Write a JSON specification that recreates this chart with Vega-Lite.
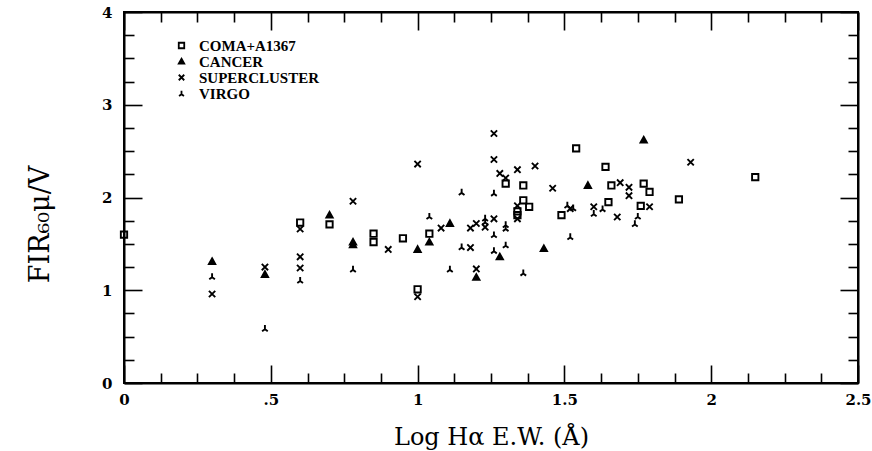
{
  "$schema": "https://vega.github.io/schema/vega-lite/v6.json",
  "width": 734,
  "height": 371,
  "autosize": "none",
  "padding": {"left": 124, "top": 12, "right": 14, "bottom": 68},
  "background": "white",
  "config": {
    "view": {"stroke": "black", "strokeWidth": 2},
    "axis": {"domainColor": "black", "domainWidth": 2, "tickColor": "black", "tickWidth": 1.6, "grid": false, "labelFont": "DejaVu Serif", "labelFontWeight": "bold", "labelColor": "black", "titleFont": "DejaVu Serif", "titleFontWeight": "normal", "titleColor": "black"}
  },
  "data": {"values": [
    {"s": "COMA+A1367", "x": 0.0, "y": 1.60},
    {"s": "COMA+A1367", "x": 0.60, "y": 1.73},
    {"s": "COMA+A1367", "x": 0.70, "y": 1.71},
    {"s": "COMA+A1367", "x": 0.85, "y": 1.61},
    {"s": "COMA+A1367", "x": 0.85, "y": 1.52},
    {"s": "COMA+A1367", "x": 0.95, "y": 1.56},
    {"s": "COMA+A1367", "x": 1.00, "y": 1.01},
    {"s": "COMA+A1367", "x": 1.04, "y": 1.61},
    {"s": "COMA+A1367", "x": 1.30, "y": 2.15},
    {"s": "COMA+A1367", "x": 1.36, "y": 2.13},
    {"s": "COMA+A1367", "x": 1.36, "y": 1.97},
    {"s": "COMA+A1367", "x": 1.38, "y": 1.90},
    {"s": "COMA+A1367", "x": 1.34, "y": 1.85},
    {"s": "COMA+A1367", "x": 1.34, "y": 1.81},
    {"s": "COMA+A1367", "x": 1.49, "y": 1.81},
    {"s": "COMA+A1367", "x": 1.54, "y": 2.53},
    {"s": "COMA+A1367", "x": 1.64, "y": 2.33},
    {"s": "COMA+A1367", "x": 1.66, "y": 2.13},
    {"s": "COMA+A1367", "x": 1.65, "y": 1.95},
    {"s": "COMA+A1367", "x": 1.77, "y": 2.15},
    {"s": "COMA+A1367", "x": 1.79, "y": 2.06},
    {"s": "COMA+A1367", "x": 1.76, "y": 1.91},
    {"s": "COMA+A1367", "x": 1.89, "y": 1.98},
    {"s": "COMA+A1367", "x": 2.15, "y": 2.22},
    {"s": "CANCER", "x": 0.30, "y": 1.31},
    {"s": "CANCER", "x": 0.48, "y": 1.17},
    {"s": "CANCER", "x": 0.70, "y": 1.81},
    {"s": "CANCER", "x": 0.78, "y": 1.49},
    {"s": "CANCER", "x": 0.78, "y": 1.52},
    {"s": "CANCER", "x": 1.00, "y": 1.44},
    {"s": "CANCER", "x": 1.04, "y": 1.52},
    {"s": "CANCER", "x": 1.11, "y": 1.72},
    {"s": "CANCER", "x": 1.20, "y": 1.14},
    {"s": "CANCER", "x": 1.28, "y": 1.36},
    {"s": "CANCER", "x": 1.43, "y": 1.45},
    {"s": "CANCER", "x": 1.58, "y": 2.13},
    {"s": "CANCER", "x": 1.77, "y": 2.62},
    {"s": "SUPERCLUSTER", "x": 0.30, "y": 0.96},
    {"s": "SUPERCLUSTER", "x": 0.48, "y": 1.25},
    {"s": "SUPERCLUSTER", "x": 0.60, "y": 1.36},
    {"s": "SUPERCLUSTER", "x": 0.60, "y": 1.24},
    {"s": "SUPERCLUSTER", "x": 0.60, "y": 1.66},
    {"s": "SUPERCLUSTER", "x": 0.78, "y": 1.96},
    {"s": "SUPERCLUSTER", "x": 0.90, "y": 1.44},
    {"s": "SUPERCLUSTER", "x": 1.00, "y": 0.93},
    {"s": "SUPERCLUSTER", "x": 1.00, "y": 2.36},
    {"s": "SUPERCLUSTER", "x": 1.08, "y": 1.67},
    {"s": "SUPERCLUSTER", "x": 1.18, "y": 1.67},
    {"s": "SUPERCLUSTER", "x": 1.20, "y": 1.72},
    {"s": "SUPERCLUSTER", "x": 1.18, "y": 1.46},
    {"s": "SUPERCLUSTER", "x": 1.20, "y": 1.23},
    {"s": "SUPERCLUSTER", "x": 1.23, "y": 1.68},
    {"s": "SUPERCLUSTER", "x": 1.26, "y": 1.77},
    {"s": "SUPERCLUSTER", "x": 1.26, "y": 2.69},
    {"s": "SUPERCLUSTER", "x": 1.26, "y": 2.41},
    {"s": "SUPERCLUSTER", "x": 1.28, "y": 2.26},
    {"s": "SUPERCLUSTER", "x": 1.30, "y": 2.21},
    {"s": "SUPERCLUSTER", "x": 1.34, "y": 2.30},
    {"s": "SUPERCLUSTER", "x": 1.40, "y": 2.34},
    {"s": "SUPERCLUSTER", "x": 1.34, "y": 1.91},
    {"s": "SUPERCLUSTER", "x": 1.34, "y": 1.77},
    {"s": "SUPERCLUSTER", "x": 1.46, "y": 2.10},
    {"s": "SUPERCLUSTER", "x": 1.52, "y": 1.88},
    {"s": "SUPERCLUSTER", "x": 1.60, "y": 1.90},
    {"s": "SUPERCLUSTER", "x": 1.68, "y": 1.79},
    {"s": "SUPERCLUSTER", "x": 1.69, "y": 2.16},
    {"s": "SUPERCLUSTER", "x": 1.72, "y": 2.11},
    {"s": "SUPERCLUSTER", "x": 1.72, "y": 2.02},
    {"s": "SUPERCLUSTER", "x": 1.79, "y": 1.90},
    {"s": "SUPERCLUSTER", "x": 1.93, "y": 2.38},
    {"s": "VIRGO", "x": 0.30, "y": 1.15},
    {"s": "VIRGO", "x": 0.48, "y": 0.59},
    {"s": "VIRGO", "x": 0.60, "y": 1.11},
    {"s": "VIRGO", "x": 0.78, "y": 1.23},
    {"s": "VIRGO", "x": 1.04, "y": 1.80},
    {"s": "VIRGO", "x": 1.11, "y": 1.23},
    {"s": "VIRGO", "x": 1.15, "y": 2.06},
    {"s": "VIRGO", "x": 1.15, "y": 1.47},
    {"s": "VIRGO", "x": 1.23, "y": 1.78},
    {"s": "VIRGO", "x": 1.23, "y": 1.74},
    {"s": "VIRGO", "x": 1.26, "y": 2.05},
    {"s": "VIRGO", "x": 1.26, "y": 1.60},
    {"s": "VIRGO", "x": 1.26, "y": 1.43},
    {"s": "VIRGO", "x": 1.30, "y": 1.71},
    {"s": "VIRGO", "x": 1.30, "y": 1.67},
    {"s": "VIRGO", "x": 1.30, "y": 1.49},
    {"s": "VIRGO", "x": 1.36, "y": 1.19},
    {"s": "VIRGO", "x": 1.51, "y": 1.92},
    {"s": "VIRGO", "x": 1.53, "y": 1.89},
    {"s": "VIRGO", "x": 1.52, "y": 1.58},
    {"s": "VIRGO", "x": 1.60, "y": 1.83},
    {"s": "VIRGO", "x": 1.63, "y": 1.88},
    {"s": "VIRGO", "x": 1.75, "y": 1.80},
    {"s": "VIRGO", "x": 1.74, "y": 1.72}
  ]},
  "layer": [
    {
      "mark": {"type": "point", "filled": true, "strokeWidth": 1.9, "size": 40, "opacity": 1},
      "encoding": {
        "x": {"field": "x", "type": "quantitative", "scale": {"domain": [0, 2.5], "nice": false, "zero": false},
          "axis": {"orient": "bottom", "title": "Log Hα E.W. (Å)", "titleFontSize": 24, "titleY": 54, "titleBaseline": "middle", "titleColor": "black",
            "values": [0, 0.125, 0.25, 0.375, 0.5, 0.625, 0.75, 0.875, 1, 1.125, 1.25, 1.375, 1.5, 1.625, 1.75, 1.875, 2, 2.125, 2.25, 2.375, 2.5],
            "labelExpr": "datum.value % 0.5 == 0 ? (datum.value == 0.5 ? '.5' : '' + datum.value) : ''",
            "labelOverlap": false, "labelFontSize": 15, "labelPadding": 27, "labelFlush": false,
            "tickSize": {"condition": {"test": "datum.value % 0.5 == 0", "value": -18}, "value": -10}}},
        "y": {"field": "y", "type": "quantitative", "scale": {"domain": [0, 4], "nice": false, "zero": false},
          "axis": {"orient": "left", "title": "FIR₆₀μ/V", "titleFontSize": 27, "titleX": -84, "titleY": 212, "titleBaseline": "middle", "titleColor": "black",
            "values": [0, 0.25, 0.5, 0.75, 1, 1.25, 1.5, 1.75, 2, 2.25, 2.5, 2.75, 3, 3.25, 3.5, 3.75, 4],
            "labelExpr": "datum.value % 1 == 0 ? '' + datum.value : ''",
            "labelOverlap": false, "labelFontSize": 15, "labelPadding": 30, "labelFlush": false,
            "tickSize": {"condition": {"test": "datum.value % 1 == 0", "value": -18}, "value": -10}}},
        "shape": {"field": "s", "type": "nominal",
          "scale": {"domain": ["COMA+A1367", "CANCER", "SUPERCLUSTER", "VIRGO"],
            "range": ["M-1,-1L1,-1L1,1L-1,1Z", "M0,-1L1,0.8L-1,0.8Z", "M-1,-1L1,1M1,-1L-1,1", "M0,-1L0,0.3L-0.9,0.95M0,0.3L0.9,0.95"]},
          "legend": {"title": null, "orient": "none", "legendX": 50, "legendY": 26, "padding": 0, "rowPadding": -3,
            "labelFont": "Liberation Serif", "labelFontWeight": "bold", "labelFontSize": 15, "labelColor": "black", "labelOffset": 10,
            "symbolSize": 30, "symbolStrokeWidth": 1.8}},
        "fill": {"field": "s", "type": "nominal",
          "scale": {"domain": ["COMA+A1367", "CANCER", "SUPERCLUSTER", "VIRGO"], "range": ["transparent", "black", "transparent", "transparent"]},
          "legend": {"title": null, "orient": "none", "legendX": 50, "legendY": 26, "padding": 0, "rowPadding": -3,
            "labelFont": "Liberation Serif", "labelFontWeight": "bold", "labelFontSize": 15, "labelColor": "black", "labelOffset": 10,
            "symbolSize": 30, "symbolStrokeWidth": 1.8}},
        "stroke": {"field": "s", "type": "nominal",
          "scale": {"domain": ["COMA+A1367", "CANCER", "SUPERCLUSTER", "VIRGO"], "range": ["black", "black", "black", "black"]},
          "legend": {"title": null, "orient": "none", "legendX": 50, "legendY": 26, "padding": 0, "rowPadding": -3,
            "labelFont": "Liberation Serif", "labelFontWeight": "bold", "labelFontSize": 15, "labelColor": "black", "labelOffset": 10,
            "symbolSize": 30, "symbolStrokeWidth": 1.8}}
      }
    },
    {
      "mark": {"type": "point", "opacity": 0},
      "encoding": {
        "x": {"field": "x", "type": "quantitative",
          "axis": {"orient": "top", "title": null, "labels": false,
            "values": [0, 0.125, 0.25, 0.375, 0.5, 0.625, 0.75, 0.875, 1, 1.125, 1.25, 1.375, 1.5, 1.625, 1.75, 1.875, 2, 2.125, 2.25, 2.375, 2.5],
            "tickSize": {"condition": {"test": "datum.value % 0.5 == 0", "value": -18}, "value": -10}}},
        "y": {"field": "y", "type": "quantitative",
          "axis": {"orient": "right", "title": null, "labels": false,
            "values": [0, 0.25, 0.5, 0.75, 1, 1.25, 1.5, 1.75, 2, 2.25, 2.5, 2.75, 3, 3.25, 3.5, 3.75, 4],
            "tickSize": {"condition": {"test": "datum.value % 1 == 0", "value": -18}, "value": -10}}}
      }
    }
  ],
  "resolve": {"axis": {"x": "independent", "y": "independent"}}
}
